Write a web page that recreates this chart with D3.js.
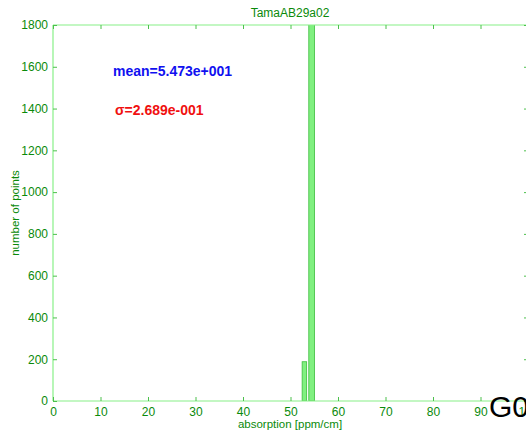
<!DOCTYPE html>
<html>
<head>
<meta charset="utf-8">
<script src="https://cdn.jsdelivr.net/npm/d3@7/dist/d3.min.js"></script>
<style>
  html, body { margin: 0; padding: 0; background: #fff; }
  svg { display: block; font-family: "Liberation Sans", Arial, sans-serif; }
</style>
</head>
<body>
<svg id="chart" width="526" height="430"></svg>
<script>
// Histogram bins: [start, end] in ppm/cm and point counts
const binStart = [52.45, 53.85];
const binEnd   = [53.40, 55.05];
const binCount = [188, 2600];

const xTicks = [0, 10, 20, 30, 40, 50, 60, 70, 80, 90, 100];
const yTicks = [0, 200, 400, 600, 800, 1000, 1200, 1400, 1600, 1800];

const titleText = "TamaAB29a02";
const xLabel = "absorption [ppm/cm]";
const yLabel = "number of points";
const meanText = "mean=5.473e+001";
const sigmaText = "\u03c3=2.689e-001";

const axisColor = "#88f088";
const textColor = "#0a8a0a";
const fmt = d3.format("d");

const svg = d3.select("#chart");
const m = { left: 53, right: 528, top: 25, bottom: 401 };

const x = d3.scaleLinear().domain([0, 100]).range([m.left, m.right]);
const y = d3.scaleLinear().domain([0, 1800]).range([m.bottom, m.top]);

svg.append("defs").append("clipPath").attr("id", "plotClip")
  .append("rect").attr("x", m.left).attr("y", m.top)
  .attr("width", m.right - m.left).attr("height", m.bottom - m.top);

// bars
const bins = binCount.map((c, i) => ({ s: binStart[i], e: binEnd[i], c }));
svg.append("g").attr("clip-path", "url(#plotClip)")
  .selectAll("rect").data(bins).join("rect")
  .attr("x", d => x(d.s))
  .attr("y", d => y(d.c))
  .attr("width", d => x(d.e) - x(d.s))
  .attr("height", d => y(0) - y(d.c))
  .attr("fill", "#80f080")
  .attr("stroke", "#3cbc3c")
  .attr("stroke-width", 0.8);

// box
const frame = svg.append("g").attr("stroke", axisColor).attr("stroke-width", 1.2).attr("fill", "none");
frame.append("line").attr("x1", m.left).attr("x2", m.right).attr("y1", m.bottom).attr("y2", m.bottom);
frame.append("line").attr("x1", m.left).attr("x2", m.right).attr("y1", m.top).attr("y2", m.top);
frame.append("line").attr("x1", m.left).attr("x2", m.left).attr("y1", m.top).attr("y2", m.bottom);
frame.append("line").attr("x1", m.right).attr("x2", m.right).attr("y1", m.top).attr("y2", m.bottom);

// x axis (ticks pointing inward)
const xAxis = svg.append("g").attr("transform", `translate(0,${m.bottom})`)
  .call(d3.axisBottom(x).tickValues(xTicks).tickFormat(fmt).tickSizeInner(-4).tickSizeOuter(0).tickPadding(6));
xAxis.select(".domain").remove();
xAxis.selectAll(".tick line").attr("stroke", "#4cc04c");
xAxis.selectAll(".tick text").attr("fill", textColor).attr("font-size", 12)
  .attr("font-family", "Liberation Sans, Arial, sans-serif");

// mirrored top ticks
const xTop = svg.append("g").attr("transform", `translate(0,${m.top})`)
  .call(d3.axisTop(x).tickValues(xTicks).tickSizeInner(-4).tickSizeOuter(0).tickFormat(""));
xTop.select(".domain").remove();
xTop.selectAll(".tick line").attr("stroke", "#4cc04c");

// y axis
const yAxis = svg.append("g").attr("transform", `translate(${m.left},0)`)
  .call(d3.axisLeft(y).tickValues(yTicks).tickFormat(fmt).tickSizeInner(-4).tickSizeOuter(0).tickPadding(5));
yAxis.select(".domain").remove();
yAxis.selectAll(".tick line").attr("stroke", "#4cc04c");
yAxis.selectAll(".tick text").attr("fill", textColor).attr("font-size", 12)
  .attr("font-family", "Liberation Sans, Arial, sans-serif");

// mirrored right ticks
const yRight = svg.append("g").attr("transform", `translate(${m.right},0)`)
  .call(d3.axisRight(y).tickValues(yTicks).tickSizeInner(-4).tickSizeOuter(0).tickFormat(""));
yRight.select(".domain").remove();
yRight.selectAll(".tick line").attr("stroke", "#4cc04c");

// title and axis labels
svg.append("text").attr("x", 290).attr("y", 17).attr("text-anchor", "middle")
  .attr("font-size", 12).attr("fill", textColor).text(titleText);
svg.append("text").attr("x", 290).attr("y", 428).attr("text-anchor", "middle")
  .attr("font-size", 11.5).attr("fill", textColor).text(xLabel);
svg.append("text").attr("transform", "translate(19,213) rotate(-90)").attr("text-anchor", "middle")
  .attr("font-size", 11.5).attr("fill", textColor).text(yLabel);

// statistics annotations
svg.append("text").attr("x", 113).attr("y", 76).attr("font-size", 14).attr("font-weight", "bold")
  .attr("fill", "#1010f0").text(meanText);
svg.append("text").attr("x", 115).attr("y", 115).attr("font-size", 14).attr("font-weight", "bold")
  .attr("fill", "#f01010").text(sigmaText);

// corner tag
svg.append("text").attr("x", 489).attr("y", 417).attr("font-size", 30)
  .attr("fill", "#000").text("G0");
</script>
</body>
</html>
